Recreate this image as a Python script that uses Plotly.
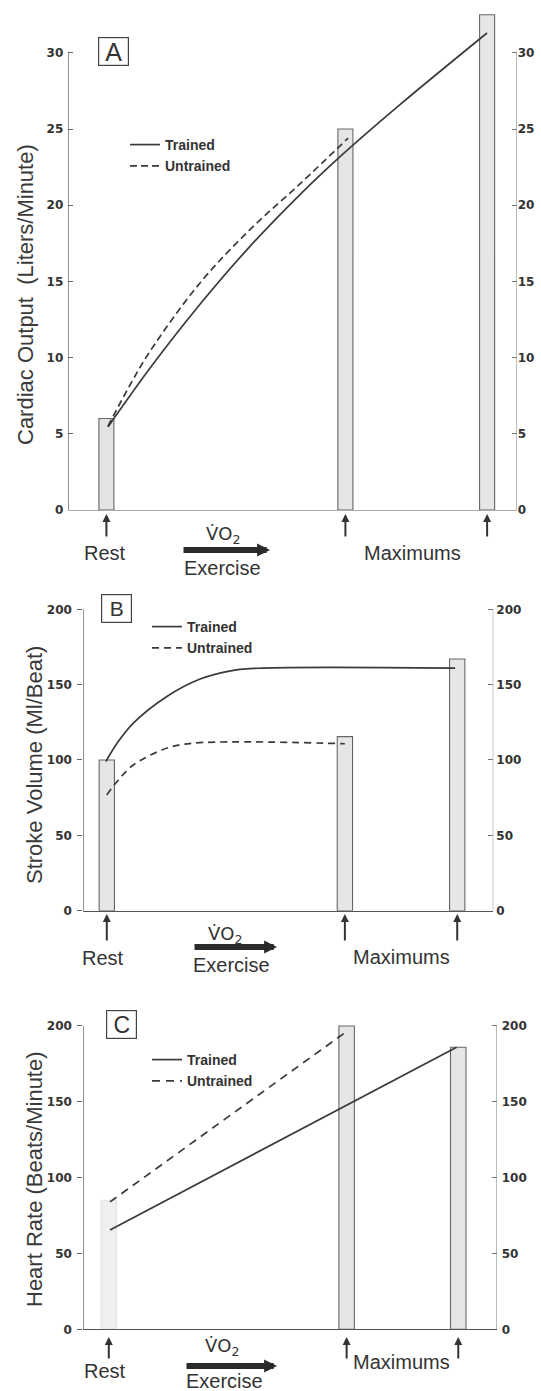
import plotly.graph_objects as go

W, H = 541, 1391

# ---------------- data ----------------
# x in relative exercise-intensity units (0 = left axis, 100 = right axis)
A_bar_x = [8.5, 61.8, 93.4]
A_bar_y = [6, 25, 32.5]
A_trained_x = [8.85, 18.2, 29.37, 40.52, 51.67, 61.04, 73.97, 93.38]
A_trained_y = [5.45, 9.3, 13.5, 17.3, 20.7, 23.3, 26.6, 31.3]
A_untrained_x = [8.85, 13.76, 18.2, 29.37, 40.52, 51.67, 62.4]
A_untrained_y = [5.5, 8.2, 10.4, 14.9, 18.4, 21.4, 24.4]
A_ticks = [0, 5, 10, 15, 20, 25, 30]

B_bar_x = [5.73, 63.8, 91.2]
B_bar_y = [100, 115.5, 167]
B_trained_x = [5.5, 8.2, 12.2, 20.3, 28.5, 36.6, 43.8, 90.7]
B_trained_y = [99, 111, 124.5, 142, 153.7, 159.5, 161, 161]
B_untrained_x = [5.7, 8.95, 12.2, 20.3, 26.8, 63.8]
B_untrained_y = [76.8, 88, 96.7, 107.8, 111.2, 110.8]
B_ticks = [0, 50, 100, 150, 200]

C_bar_x = [6.17, 63.7, 90.7]
C_bar_y = [85, 200, 186]
C_trained_x = [6.46, 90.3]
C_trained_y = [65.5, 186]
C_untrained_x = [6.46, 63.5]
C_untrained_y = [84, 196]
C_ticks = [0, 50, 100, 150, 200]

titles = ["Cardiac Output  (Liters/Minute)", "Stroke Volume (Ml/Beat)", "Heart Rate (Beats/Minute)"]
letters = ["A", "B", "C"]

# ---------------- helpers ----------------
def fx(px):
    return px / W

def fy(py):
    return 1 - py / H

INK = "#333333"
FONT = "Liberation Sans"

fig = go.Figure()

panels = [
    dict(n="", bx=A_bar_x, by=A_bar_y, tx=A_trained_x, ty=A_trained_y, ux=A_untrained_x, uy=A_untrained_y,
         ticks=A_ticks, ymax=33, ytop=30, xl=68.3, xr=516.7, y0=510, ppu=15.24, bw=3.35,
         rest_fill=["#e3e3e3", "#e6e6e6", "#e6e6e6"], rest_line=["#666", "#666", "#666"],
         dash="7px,4px", leg="legend", xline="#aaaaaa", lticks="inside", lpad=4, rpad=0),
    dict(n="2", bx=B_bar_x, by=B_bar_y, tx=B_trained_x, ty=B_trained_y, ux=B_untrained_x, uy=B_untrained_y,
         ticks=B_ticks, ymax=205, ytop=200, xl=83.3, xr=493.3, y0=910.7, ppu=1.507, bw=3.73,
         rest_fill=["#e6e6e6", "#e6e6e6", "#e6e6e6"], rest_line=["#666", "#666", "#666"],
         dash="7px,5px", leg="legend2", xline="#555555", lticks="outside", lpad=3, rpad=2),
    dict(n="3", bx=C_bar_x, by=C_bar_y, tx=C_trained_x, ty=C_trained_y, ux=C_untrained_x, uy=C_untrained_y,
         ticks=C_ticks, ymax=205, ytop=200, xl=83.3, xr=496.7, y0=1329.3, ppu=1.5165, bw=3.75,
         rest_fill=["#efefef", "#e6e6e6", "#e6e6e6"], rest_line=["#e4e4e4", "#666", "#666"],
         dash="8px,6px", leg="legend3", xline="#555555", lticks="outside", lpad=3, rpad=4),
]

layout_axes = {}
shapes = []
for i, p in enumerate(panels):
    n = p["n"]
    xa = "x" + n
    ya = "y" + n
    yr_id = str(4 + i)
    yr = "y" + yr_id
    ytop_px = p["y0"] - p["ymax"] * p["ppu"]
    # bars
    fig.add_trace(go.Bar(
        x=p["bx"], y=p["by"], width=[p["bw"]] * 3, xaxis=xa, yaxis=ya,
        marker=dict(color=p["rest_fill"], line=dict(color=p["rest_line"], width=1.1)),
        showlegend=False, hoverinfo="skip"))
    # trained
    fig.add_trace(go.Scatter(
        x=p["tx"], y=p["ty"], xaxis=xa, yaxis=ya, mode="lines", name="Trained",
        line=dict(color="#3a3a3a", width=1.7, shape="spline", smoothing=1.0),
        legend=p["leg"]))
    # untrained
    fig.add_trace(go.Scatter(
        x=p["ux"], y=p["uy"], xaxis=xa, yaxis=ya, mode="lines", name="Untrained",
        line=dict(color="#3a3a3a", width=1.7, dash=p["dash"], shape="spline", smoothing=1.0),
        legend=p["leg"]))
    # invisible trace so the right-hand axis is drawn
    fig.add_trace(go.Scatter(x=[p["bx"][0]], y=[0], xaxis=xa, yaxis=yr, mode="markers",
                             marker=dict(opacity=0), showlegend=False, hoverinfo="skip"))

    tickfont = dict(family="DejaVu Sans", size=12, color=INK, weight="bold")
    layout_axes["xaxis" + n] = dict(
        domain=[fx(p["xl"]), fx(p["xr"])], range=[0, 100], anchor=ya, automargin=False,
        showticklabels=False, ticks="", showgrid=False, zeroline=False,
        showline=True, linecolor=p["xline"], linewidth=1.2, fixedrange=True)
    layout_axes["yaxis" + n] = dict(
        domain=[fy(p["y0"]), fy(ytop_px)], range=[0, p["ymax"]], anchor=xa, automargin=False,
        tickvals=p["ticks"], ticks=p["lticks"], ticklen=5, tickcolor="#666", tickwidth=1,
        showgrid=False, zeroline=False, showline=False, tickfont=tickfont,
        ticklabelstandoff=p["lpad"], fixedrange=True)
    layout_axes["yaxis" + yr_id] = dict(
        overlaying=ya, side="right", anchor=xa, range=[0, p["ymax"]], automargin=False,
        tickvals=p["ticks"], ticks="inside", ticklen=5, tickcolor="#777", tickwidth=1,
        showgrid=False, zeroline=False, showline=False, tickfont=tickfont,
        ticklabelstandoff=p["rpad"], fixedrange=True)
    # vertical axis lines only up to the top tick
    shapes.append(dict(type="line", xref=xa, yref=ya, x0=0, x1=0, y0=0, y1=p["ytop"],
                       line=dict(color="#555", width=1.2)))
    shapes.append(dict(type="line", xref=xa, yref=ya, x0=100, x1=100, y0=0, y1=p["ytop"],
                       line=dict(color="#888", width=1)))

# ---------------- annotations ----------------
ann = []
lab_font = dict(family=FONT, size=20, color=INK)

# y-axis titles
for t, (cx, cy) in zip(titles, [(25, 295), (34, 765), (34, 1179)]):
    ann.append(dict(text=t, x=fx(cx), y=fy(cy), xref="paper", yref="paper", showarrow=False,
                    textangle=-90, font=dict(family=FONT, size=22, color="#3a3a3a"),
                    xanchor="center", yanchor="middle"))

# boxed letters
for L, (cx, cy), fs in zip(letters, [(113.5, 51.5), (116.2, 608.3), (121.3, 1024)], [25, 21, 23]):
    ann.append(dict(text=L, x=fx(cx), y=fy(cy), xref="paper", yref="paper", showarrow=False,
                    font=dict(family=FONT, size=fs, color=INK), width=29, height=27,
                    bordercolor="#444", borderwidth=1.2, borderpad=0,
                    xanchor="center", yanchor="middle", valign="middle"))

# bottom labels per panel
bottom = [
    dict(xa="x", bars=A_bar_x, tip=514, tail=538, rest=(105, 553), vo=(223, 535), ex=(222, 568),
         mx=(412, 553), arr=(182, 270, 550)),
    dict(xa="x2", bars=B_bar_x, tip=914, tail=942, rest=(103, 958), vo=(225, 935), ex=(231, 965),
         mx=(401, 957), arr=(193, 277, 947)),
    dict(xa="x3", bars=C_bar_x, tip=1337, tail=1360, rest=(105, 1371), vo=(222, 1347), ex=(224, 1381),
         mx=(401, 1362), arr=(185, 277, 1366)),
]
for b in bottom:
    for bx in b["bars"]:
        ann.append(dict(text="", x=bx, y=fy(b["tip"]), xref=b["xa"], yref="paper",
                        showarrow=True, ax=0, ay=b["tail"] - b["tip"], arrowhead=2,
                        arrowsize=0.8, arrowwidth=2, arrowcolor="#333"))
    for txt, (cx, cy) in [("Rest", b["rest"]), ("Exercise", b["ex"]), ("Maximums", b["mx"])]:
        ann.append(dict(text=txt, x=fx(cx), y=fy(cy), xref="paper", yref="paper", showarrow=False,
                        font=lab_font, xanchor="center", yanchor="middle"))
    ann.append(dict(text="V\u0307O<sub>2</sub>", x=fx(b["vo"][0]), y=fy(b["vo"][1]), xref="paper",
                    yref="paper", showarrow=False, font=dict(family="DejaVu Sans", size=18, color=INK),
                    xanchor="center", yanchor="middle"))
    x0, x1, yy = b["arr"]
    ann.append(dict(text="", x=fx(x1), y=fy(yy), xref="paper", yref="paper", showarrow=True,
                    ax=-(x1 - x0), ay=0, arrowhead=2, arrowsize=0.43, arrowwidth=6,
                    arrowcolor="#2a2a2a"))

legfont = dict(family=FONT, size=14, color=INK, weight="bold")
def legend_at(px, py):
    return dict(x=fx(px), y=fy(py), xanchor="left", yanchor="top", font=legfont,
                bgcolor="rgba(0,0,0,0)", itemwidth=30, tracegroupgap=0)

fig.update_layout(
    width=W, height=H, autosize=False,
    margin=dict(l=0, r=0, t=0, b=0, autoexpand=False),
    paper_bgcolor="white", plot_bgcolor="rgba(0,0,0,0)",
    barmode="overlay",
    showlegend=True,
    legend=legend_at(125, 129),
    legend2=legend_at(147, 611),
    legend3=legend_at(147, 1044),
    annotations=ann, shapes=shapes,
    **layout_axes,
)

fig.write_html("out.html", config={"displayModeBar": False},
               post_script="document.body.style.margin='0px';")
